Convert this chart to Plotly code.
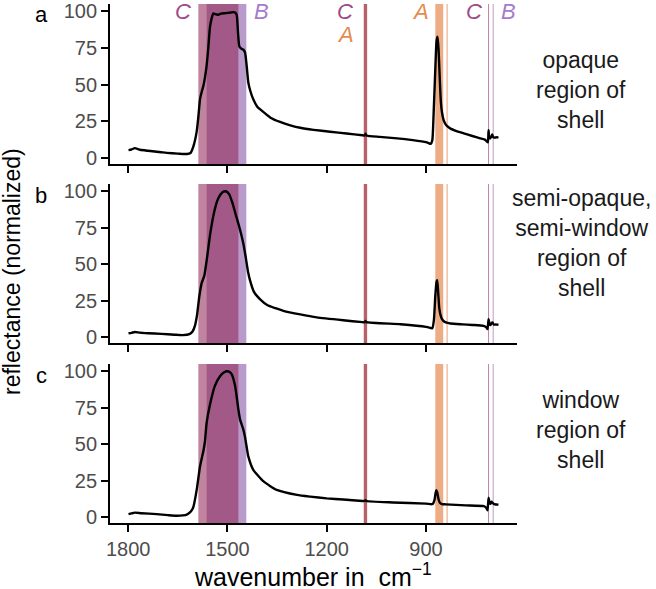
import plotly.graph_objects as go

# ---------------- data ----------------
wn_a = [1799, 1790, 1780, 1764, 1740, 1700, 1684, 1650, 1623, 1612, 1603, 1593, 1588, 1583, 1578, 1573,
        1568, 1563, 1558, 1553, 1548, 1543, 1535, 1528, 1520, 1505, 1490, 1482, 1476, 1472, 1468, 1464,
        1458, 1452, 1447, 1442, 1437, 1430, 1422, 1410, 1391, 1370, 1341, 1310, 1280, 1240, 1190, 1140,
        1092, 1086, 1083, 1080, 1040, 987, 940, 900, 890, 886, 881, 877, 872, 868, 865, 862, 858, 855,
        852, 847, 842, 835, 826, 810, 786, 760, 736, 722, 716, 713, 711, 709, 706, 703, 700, 697, 694,
        690, 686, 681]
refl_a = [5.4, 5.8, 6.7, 5.6, 4.9, 3.9, 3.5, 3.0, 2.7, 3.4, 8.0, 18, 28, 40, 45, 49,
          55, 63, 75, 89, 95, 98.5, 98.0, 97.6, 98.5, 98.8, 99.2, 99.5, 99, 97.5, 85, 76,
          74.5, 73.8, 72, 63, 51.5, 45, 40, 35, 31.3, 27.5, 24.6, 22.3, 20.6, 19.2, 17.9, 16.7,
          15.5, 15.3, 16.6, 15.4, 14.4, 13.4, 12.2, 10.8, 9.9, 9.6, 12, 30, 60, 80, 82.7, 74, 52, 38,
          31.5, 26, 23.5, 21.5, 20, 18.5, 16.8, 15, 13.4, 12.5, 11.2, 10.7, 19, 14, 13.4, 14.5, 16, 14.3, 13.9,
          14, 14.2, 13.8]

wn_b = [1799, 1790, 1780, 1765, 1740, 1700, 1660, 1635, 1615, 1605, 1598, 1592, 1585, 1578, 1570,
        1562, 1552, 1540, 1528, 1515, 1505, 1495, 1485, 1475, 1466, 1458, 1452, 1445, 1438, 1432,
        1420, 1402, 1380, 1355, 1331, 1280, 1230, 1150, 1092, 1086, 1083, 1080, 977, 900, 885, 881,
        876, 872, 868, 866, 863, 860, 856, 852, 847, 840, 826, 790, 760, 726, 717, 714, 711, 708, 705,
        702, 699, 695, 690, 685, 681]
refl_b = [2.6, 2.9, 3.5, 3.0, 2.6, 2.2, 1.6, 1.3, 2.0, 4.0, 8, 15, 28, 37, 42,
          54, 71, 86, 95, 99.3, 100, 98, 92, 84, 77, 70, 64, 55, 45, 39,
          31, 26, 22, 19.8, 18, 15.5, 13.5, 11.5, 10.2, 10.1, 11.0, 10.2, 8.8, 7.0, 6.2, 6.0,
          12, 28, 38, 39, 30, 20, 15, 12.5, 11, 10, 9.3, 8.7, 8.3, 7.7, 6.5, 5.4, 12.3, 9.0, 8.2,
          9.5, 10, 8.5, 8.6, 8.5, 8.4]

wn_c = [1799, 1790, 1780, 1760, 1714, 1680, 1654, 1623, 1610, 1603, 1593, 1583, 1576, 1573, 1568,
        1563, 1553, 1538, 1522, 1510, 1502, 1494, 1487, 1477, 1467, 1462, 1457, 1452, 1447, 1442, 1437,
        1422, 1391, 1351, 1290, 1250, 1200, 1150, 1092, 1086, 1083, 1080, 1000, 900, 882, 878, 874,
        871, 869, 866, 862, 858, 852, 840, 780, 725, 717, 714, 711, 708, 705, 702, 698, 694, 688, 681]
refl_c = [2.0, 2.5, 3.0, 2.6, 2.0, 1.3, 0.9, 1.7, 4.0, 7.0, 18.6, 34.7, 42, 45, 52,
          64.6, 77, 90, 96.8, 99.3, 100, 99.6, 97.9, 90, 73.8, 67, 63.4, 60, 55, 48, 41.6,
          32.4, 24.4, 18.6, 15.2, 14, 12.8, 12, 11, 11, 11.6, 11, 10, 9.2, 8.8, 9.5, 12,
          16.5, 18.4, 17, 12, 9.8, 8.9, 8.7, 8, 7.4, 6, 4.6, 13.3, 10, 9, 10.5, 9.5, 8.8, 8.6, 8.5]

panel_letters = ["a", "b", "c"]
panel_names = ["opaque<br>region of<br>shell",
               "semi-opaque,<br>semi-window<br>region of<br>shell",
               "window<br>region of<br>shell"]

# assignment bands (wavenumber ranges) per mineral / group
band_group = ["A", "A", "A", "B", "B", "C", "C", "C"]
band_hi = [1088, 872, 838, 1563, 698.5, 1588, 1088, 712.5]
band_lo = [1078, 848, 834.5, 1443, 695.5, 1467, 1078, 709.5]

# band labels shown in top panel
lab_text = ["C", "B", "C", "A", "A", "C", "B"]
lab_x = [1634, 1396, 1144, 1144, 917, 756, 650]
lab_y = [100, 100, 100, 84, 100, 100, 100]

x_ticks = [1800, 1500, 1200, 900]
y_ticks = [0, 25, 50, 75, 100]

# ---------------- styling ----------------
band_fill = {"A": "rgba(226,116,52,0.6)", "B": "rgba(113,53,151,0.5)", "C": "rgba(146,43,88,0.58)"}
label_col = {"A": "#E58A4E", "B": "#A67BC9", "C": "#9E4C86"}
FONT = "Liberation Sans, Arial, sans-serif"
TICKCOL = "#4D4D4D"

domains = [[0.6917, 1.0], [0.3468, 0.6532], [0.0, 0.3064]]
series = [(wn_a, refl_a), (wn_b, refl_b), (wn_c, refl_c)]

fig = go.Figure()
for i, (wx, ry) in enumerate(series):
    suffix = "" if i == 0 else str(i + 1)
    fig.add_trace(go.Scatter(x=wx, y=ry, mode="lines",
                             line=dict(color="black", width=2.4, shape="spline", smoothing=0.5),
                             xaxis="x" + suffix, yaxis="y" + suffix, showlegend=False,
                             hoverinfo="skip"))

layout = dict(width=656, height=589, paper_bgcolor="white", plot_bgcolor="white",
              margin=dict(l=110, r=139, t=4, b=66, autoexpand=False), showlegend=False,
              font=dict(family=FONT, color="black"))
for i in range(3):
    suffix = "" if i == 0 else str(i + 1)
    layout["xaxis" + suffix] = dict(
        range=[1855, 625], domain=[0, 1], anchor="y" + suffix,
        tickvals=x_ticks, ticktext=[str(v) for v in x_ticks],
        showticklabels=(i == 2), ticks="outside", ticklen=7, tickwidth=1.8,
        tickcolor="black", showline=True, linecolor="black", linewidth=1.8,
        showgrid=False, zeroline=False, automargin=False,
        tickfont=dict(size=20, color=TICKCOL, family=FONT))
    layout["yaxis" + suffix] = dict(
        range=[-4.1, 105], domain=domains[i], anchor="x" + suffix,
        tickvals=y_ticks, ticks="outside", ticklen=7, tickwidth=1.8,
        tickcolor="black", showline=True, linecolor="black", linewidth=1.8,
        showgrid=False, zeroline=False, automargin=False,
        tickfont=dict(size=20, color=TICKCOL, family=FONT))
fig.update_layout(**layout)

shapes = []
for i in range(3):
    suffix = "" if i == 0 else str(i + 1)
    for g in ["A", "B", "C"]:
        for grp, hi, lo in zip(band_group, band_hi, band_lo):
            if grp != g:
                continue
            shapes.append(dict(type="rect", xref="x" + suffix, yref="y" + suffix + " domain",
                               x0=hi, x1=lo, y0=0, y1=1, fillcolor=band_fill[g],
                               line=dict(width=0), layer="below"))
fig.update_layout(shapes=shapes)

ann = []
for t, x, y in zip(lab_text, lab_x, lab_y):
    ann.append(dict(text="<i>" + t + "</i>", x=x, y=y, xref="x", yref="y", showarrow=False,
                    font=dict(size=22, color=label_col[t], family=FONT),
                    xanchor="center", yanchor="middle"))

letter_y = [(523 - 15) / 519, (523 - 195) / 519, (523 - 375) / 519]
name_y = [(523 - 90) / 519, (523 - 243) / 519, (523 - 430) / 519]
for i in range(3):
    ann.append(dict(text=panel_letters[i], x=(41 - 110) / 407, y=letter_y[i], xref="paper",
                    yref="paper", showarrow=False, xanchor="center", yanchor="middle",
                    font=dict(size=22, color="black", family=FONT)))
    ann.append(dict(text=panel_names[i], x=(581 - 110) / 407, y=name_y[i], xref="paper",
                    yref="paper", showarrow=False, xanchor="center", yanchor="middle",
                    align="center", font=dict(size=23, color="#1A1A1A", family=FONT)))

ann.append(dict(text="reflectance (normalized)", x=(12 - 110) / 407, y=(523 - 272) / 519,
                xref="paper", yref="paper", showarrow=False, textangle=-90,
                xanchor="center", yanchor="middle",
                font=dict(size=23, color="black", family=FONT)))
ann.append(dict(text="wavenumber in&nbsp; cm<sup>\u22121</sup>", x=(313 - 110) / 407,
                y=(523 - 575) / 519, xref="paper", yref="paper", showarrow=False,
                xanchor="center", yanchor="middle",
                font=dict(size=25, color="black", family=FONT)))
fig.update_layout(annotations=ann)

fig.write_html("out.html", config={"displayModeBar": False},
               post_script="document.body.style.margin='0';document.body.style.padding='0';"
                           "document.body.style.overflow='hidden';")
